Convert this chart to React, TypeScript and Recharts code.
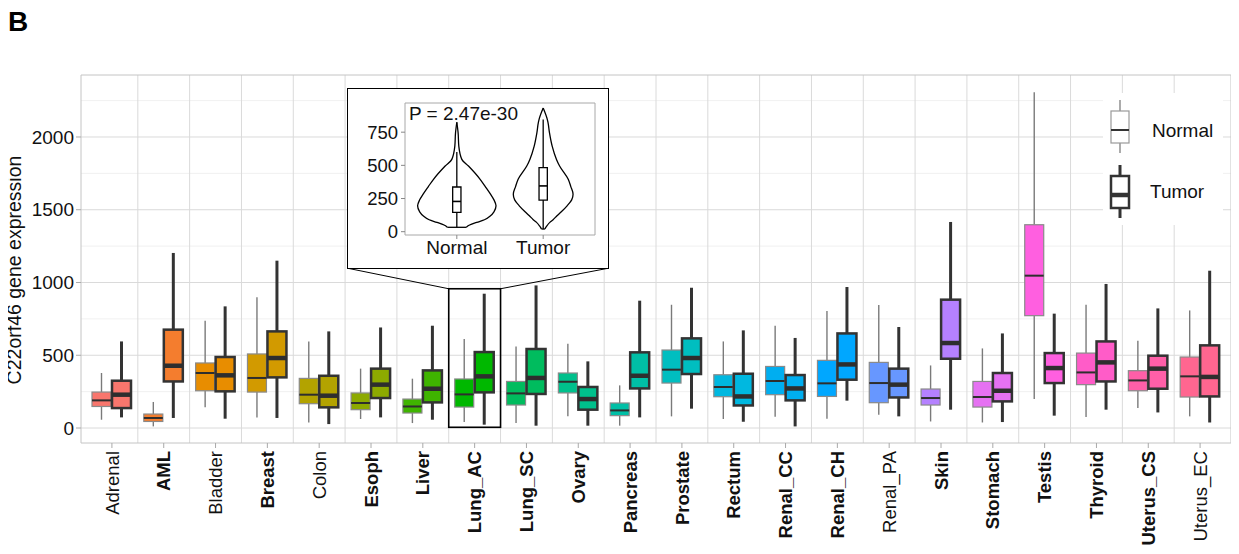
import React from "react"
import {
  ComposedChart,
  Bar,
  Area,
  XAxis,
  YAxis,
  CartesianGrid,
  ReferenceArea,
  ReferenceLine,
  Legend,
} from "recharts"

const FONT = "'Liberation Sans', Arial, sans-serif"

const tissues = [
  "Adrenal", "AML", "Bladder", "Breast", "Colon", "Esoph", "Liver", "Lung_AC",
  "Lung_SC", "Ovary", "Pancreas", "Prostate", "Rectum", "Renal_CC", "Renal_CH",
  "Renal_PA", "Skin", "Stomach", "Testis", "Thyroid", "Uterus_CS", "Uterus_EC",
]

// tissues printed in bold on the x axis
const boldTissues = [
  "AML", "Breast", "Esoph", "Liver", "Lung_AC", "Lung_SC", "Ovary", "Pancreas",
  "Prostate", "Rectum", "Renal_CC", "Renal_CH", "Skin", "Stomach", "Testis",
  "Thyroid", "Uterus_CS",
]

// [min, q1, median, q3, max]
const normalBox = [
  [57, 148, 190, 247, 378],
  [11, 45, 69, 96, 179],
  [142, 256, 378, 447, 737],
  [73, 247, 344, 509, 898],
  [38, 167, 229, 341, 595],
  [62, 126, 172, 241, 408],
  [34, 103, 148, 199, 339],
  [41, 144, 231, 337, 612],
  [34, 158, 238, 320, 561],
  [80, 241, 318, 378, 579],
  [16, 85, 121, 172, 293],
  [80, 309, 401, 536, 847],
  [62, 215, 282, 366, 595],
  [78, 229, 323, 423, 703],
  [64, 217, 307, 465, 804],
  [91, 174, 309, 451, 845],
  [45, 158, 206, 268, 430],
  [38, 144, 213, 320, 547],
  [199, 772, 1047, 1397, 2307],
  [76, 298, 382, 515, 847],
  [137, 256, 327, 394, 600],
  [80, 213, 355, 488, 808],
]

const tumorBox = [
  [73, 137, 229, 325, 595],
  [69, 320, 428, 676, 1203],
  [64, 252, 362, 488, 836],
  [69, 348, 481, 664, 1150],
  [27, 142, 222, 359, 664],
  [73, 206, 298, 408, 691],
  [57, 176, 270, 396, 703],
  [23, 245, 355, 522, 923],
  [16, 234, 344, 543, 980],
  [16, 126, 199, 282, 458],
  [73, 272, 359, 520, 875],
  [133, 371, 481, 616, 964],
  [43, 155, 217, 373, 671],
  [11, 190, 272, 364, 619],
  [188, 332, 437, 650, 969],
  [80, 210, 298, 408, 694],
  [126, 476, 584, 882, 1416],
  [41, 183, 256, 378, 650],
  [85, 309, 412, 515, 786],
  [126, 320, 451, 595, 990],
  [107, 270, 408, 497, 822],
  [38, 217, 351, 568, 1081],
]

const tissueColors = [
  "#F8766D", "#F47D2E", "#E88D00", "#D29A00", "#B3A300", "#8DAA00", "#3FB400",
  "#00B800", "#00BC5E", "#00C08C", "#00BFA6", "#00BEC0", "#00B8E0", "#00AEF0",
  "#00A7FF", "#6797FF", "#B581FF", "#E571F2", "#FF5FE0", "#FF5CC8", "#FF5FA8",
  "#FF6690",
]

const majorTicks = [0, 500, 1000, 1500, 2000]
const minorTicks = [250, 750, 1250, 1750, 2250]

// inset: Lung_AC violins
const groups = ["Normal", "Tumor"]
const violinLevels = [932, 850, 825, 745, 645, 545, 495, 395, 340, 283, 240, 195, 150, 120, 90, 70, 40, 33, 20]
const normalHalfWidth = [null, null, 0, 0.015, 0.023, 0.058, 0.135, 0.27, 0.33, 0.39, 0.43, 0.454, 0.43, 0.39, 0.32, 0.23, 0.12, 0.11, null]
const tumorHalfWidth = [0, 0.046, 0.055, 0.073, 0.104, 0.154, 0.19, 0.29, 0.32, 0.346, 0.33, 0.277, 0.21, 0.16, 0.115, 0.077, 0.038, 0.03, 0.02]
const normalInsetBox = [33, 145, 228, 337, 600]
const tumorInsetBox = [20, 238, 345, 483, 845]
const insetTicks = [0, 250, 500, 750]

const rows = tissues.map((tissue, i) => ({
  tissue,
  normal: normalBox[i],
  tumor: tumorBox[i],
  color: tissueColors[i],
}))

const violinRows = violinLevels.map((v, i) => ({
  v,
  nHw: normalHalfWidth[i],
  tHw: tumorHalfWidth[i],
}))

const PAD = 5

const makeBox = (kind: "normal" | "tumor") => (props: any) => {
  const { x, y, width, height, payload } = props
  const s = payload[kind]
  const lo = s[0]
  const hi = s[4]
  const py = (v: number) => y + (height * (hi - v)) / (hi - lo)
  const cx = x + width / 2
  const isT = kind === "tumor"
  const edge = isT ? "#333" : "#8a8a8a"
  const wh = isT ? "#333" : "#7a7a7a"
  return (
    <g>
      <line x1={cx} x2={cx} y1={py(s[4])} y2={py(s[3])} stroke={wh} strokeWidth={isT ? 3 : 1.4} />
      <line x1={cx} x2={cx} y1={py(s[1])} y2={py(s[0])} stroke={wh} strokeWidth={isT ? 3 : 1.4} />
      <rect
        x={x}
        y={py(s[3])}
        width={width}
        height={py(s[1]) - py(s[3])}
        fill={payload.color}
        stroke={edge}
        strokeWidth={isT ? 2.5 : 1.2}
      />
      <line x1={x} x2={x + width} y1={py(s[2])} y2={py(s[2])} stroke="#2e2e2e" strokeWidth={isT ? 4.5 : 2} />
    </g>
  )
}

const TissueTick = (props: any) => {
  const { x, y, payload } = props
  const bold = boldTissues.includes(payload.value)
  return (
    <text
      x={x}
      y={y}
      transform={`rotate(-90 ${x} ${y})`}
      textAnchor="end"
      dy="0.36em"
      fontSize={18.5}
      fontWeight={bold ? 700 : 400}
      fill="#111"
    >
      {payload.value}
    </text>
  )
}

const LegendContent = (props: any) => {
  const items = props.payload || []
  const icon = (top: number, thick: boolean) => (
    <g>
      <line x1={17} x2={17} y1={top} y2={top + 53} stroke={thick ? "#333" : "#888"} strokeWidth={thick ? 3 : 1.4} />
      <rect x={8} y={top + 11} width={18} height={32} fill="#fff" stroke={thick ? "#333" : "#999"} strokeWidth={thick ? 2.5 : 1.2} />
      <line x1={8} x2={26} y1={top + 30} y2={top + 30} stroke="#333" strokeWidth={thick ? 4.5 : 2} />
    </g>
  )
  return (
    <div style={{ width: 120, height: 132, background: "#fff" }}>
      <svg width={120} height={132} style={{ fontFamily: FONT }}>
        {icon(7, false)}
        {icon(72, true)}
        <text x={49} y={44} fontSize={19} fill="#111">{items[0] ? items[0].value : "Normal"}</text>
        <text x={47} y={105} fontSize={19} fill="#111">{items[1] ? items[1].value : "Tumor"}</text>
      </svg>
    </div>
  )
}

const Inset = () => {
  const boxParts = (c: number, s: number[]) => [
    <ReferenceLine key={`w1${c}`} segment={[{ x: c, y: s[0] }, { x: c, y: s[1] }]} stroke="#000" strokeWidth={1.3} />,
    <ReferenceLine key={`w2${c}`} segment={[{ x: c, y: s[3] }, { x: c, y: s[4] }]} stroke="#000" strokeWidth={1.3} />,
    <ReferenceArea key={`b${c}`} x1={c - 0.048} x2={c + 0.048} y1={s[1]} y2={s[3]} fill="#fff" fillOpacity={1} stroke="#000" strokeWidth={1.3} />,
    <ReferenceLine key={`m${c}`} segment={[{ x: c - 0.048, y: s[2] }, { x: c + 0.048, y: s[2] }]} stroke="#000" strokeWidth={1.6} />,
  ]
  const violin = (key: "nHw" | "tHw", c: number) => [
    <Area
      key={`${key}l`}
      dataKey={(d: any) => (d[key] == null ? null : c - d[key])}
      baseValue={c}
      type="monotone"
      stroke="#000"
      strokeWidth={1.3}
      fill="none"
      dot={false}
      activeDot={false}
      isAnimationActive={false}
    />,
    <Area
      key={`${key}r`}
      dataKey={(d: any) => (d[key] == null ? null : c + d[key])}
      baseValue={c}
      type="monotone"
      stroke="#000"
      strokeWidth={1.3}
      fill="none"
      dot={false}
      activeDot={false}
      isAnimationActive={false}
    />,
  ]
  return (
    <ComposedChart
      layout="vertical"
      width={259}
      height={178}
      data={violinRows}
      margin={{ top: 14, right: 12, bottom: 0, left: 0 }}
    >
      <CartesianGrid
        stroke="#a8a8a8"
        horizontalCoordinatesGenerator={({ offset }: any) => [offset.top, offset.top + offset.height]}
        verticalCoordinatesGenerator={({ offset }: any) => [offset.left, offset.left + offset.width]}
      />
      <XAxis
        type="number"
        domain={[0.4, 2.6]}
        ticks={[1, 2]}
        allowDataOverflow
        tickFormatter={(v: number) => groups[v - 1]}
        axisLine={false}
        tickLine={{ stroke: "#888" }}
        tickSize={4}
        tickMargin={2}
        height={32}
        tick={{ fill: "#111", fontSize: 19 }}
      />
      <YAxis
        type="number"
        dataKey="v"
        domain={[-25, 970]}
        ticks={insetTicks}
        reversed
        allowDataOverflow
        axisLine={false}
        tickLine={{ stroke: "#888" }}
        tickSize={4}
        tickMargin={3}
        width={57}
        tick={{ fill: "#111", fontSize: 18.5 }}
      />
      {violin("nHw", 1)}
      {violin("tHw", 2)}
      <ReferenceLine segment={[{ x: 1 - 0.11, y: 33 }, { x: 1 + 0.11, y: 33 }]} stroke="#000" strokeWidth={1.3} />
      <ReferenceLine segment={[{ x: 2 - 0.02, y: 20 }, { x: 2 + 0.02, y: 20 }]} stroke="#000" strokeWidth={1.3} />
      {boxParts(1, normalInsetBox)}
      {boxParts(2, tumorInsetBox)}
      <text x={61} y={31} fontSize={19} fill="#111">P = 2.47e-30</text>
    </ComposedChart>
  )
}

// inset frame, in page pixels
const INSET = { left: 347, top: 88, width: 262, height: 181 }

const App = () => {
  return (
    <div style={{ position: "relative", width: 1239, height: 554, margin: -8, fontFamily: FONT, background: "#fff" }}>
      <ComposedChart
        width={1239}
        height={554}
        data={rows}
        margin={{ top: 75, right: 8, bottom: 0, left: 0 }}
        barSize={19}
        barGap={1}
      >
        <CartesianGrid vertical={false} horizontalValues={minorTicks} stroke="#ececec" strokeWidth={0.8} />
        <CartesianGrid vertical={false} horizontalValues={majorTicks} stroke="#dadada" />
        <CartesianGrid
          horizontal={false}
          stroke="#dadada"
          verticalCoordinatesGenerator={({ offset }: any) => {
            const bw = (offset.width - 2 * PAD) / tissues.length
            return tissues.slice(1).map((_, i) => offset.left + PAD + (i + 1) * bw)
          }}
        />
        <CartesianGrid
          stroke="#c4c4c4"
          horizontalCoordinatesGenerator={({ offset }: any) => [offset.top, offset.top + offset.height]}
          verticalCoordinatesGenerator={({ offset }: any) => [offset.left, offset.left + offset.width]}
        />
        <XAxis
          dataKey="tissue"
          interval={0}
          padding={{ left: PAD, right: PAD }}
          axisLine={false}
          tickLine={{ stroke: "#aaa" }}
          tickSize={5}
          tickMargin={3}
          height={111}
          tick={<TissueTick />}
        />
        <YAxis
          domain={[-103, 2426]}
          ticks={majorTicks}
          allowDataOverflow
          axisLine={false}
          tickLine={{ stroke: "#aaa" }}
          tickSize={5}
          tickMargin={2}
          width={81}
          tick={{ fill: "#111", fontSize: 19 }}
        />
        <Legend
          layout="vertical"
          align="center"
          verticalAlign="middle"
          wrapperStyle={{ left: 1103, top: 93, width: 120, height: 132 }}
          content={<LegendContent />}
        />
        <Bar
          name="Normal"
          dataKey={(d: any) => [d.normal[0], d.normal[4]]}
          shape={makeBox("normal")}
          isAnimationActive={false}
        />
        <Bar
          name="Tumor"
          dataKey={(d: any) => [d.tumor[0], d.tumor[4]]}
          shape={makeBox("tumor")}
          isAnimationActive={false}
        />
        <ReferenceArea
          x1="Lung_AC"
          x2="Lung_AC"
          y1={5}
          y2={957}
          shape={(p: any) => (
            <g>
              <rect x={p.x} y={p.y} width={p.width} height={p.height} fill="none" stroke="#000" strokeWidth={1.6} />
              <line x1={INSET.left + 0.75} y1={INSET.top + INSET.height - 0.75} x2={p.x} y2={p.y} stroke="#000" strokeWidth={1} />
              <line
                x1={INSET.left + INSET.width - 0.75}
                y1={INSET.top + INSET.height - 0.75}
                x2={p.x + p.width}
                y2={p.y}
                stroke="#000"
                strokeWidth={1}
              />
            </g>
          )}
        />
        <text x={8} y={31} fontSize={28} fontWeight={700} fill="#000">B</text>
        <text x={21} y={270} transform="rotate(-90 21 270)" textAnchor="middle" fontSize={19.5} fill="#111">
          C22orf46 gene expression
        </text>
      </ComposedChart>
      <div
        style={{
          position: "absolute",
          left: INSET.left,
          top: INSET.top,
          width: INSET.width,
          height: INSET.height,
          border: "1.5px solid #000",
          boxSizing: "border-box",
          background: "#fff",
        }}
      >
        <Inset />
      </div>
    </div>
  )
}

export default App
